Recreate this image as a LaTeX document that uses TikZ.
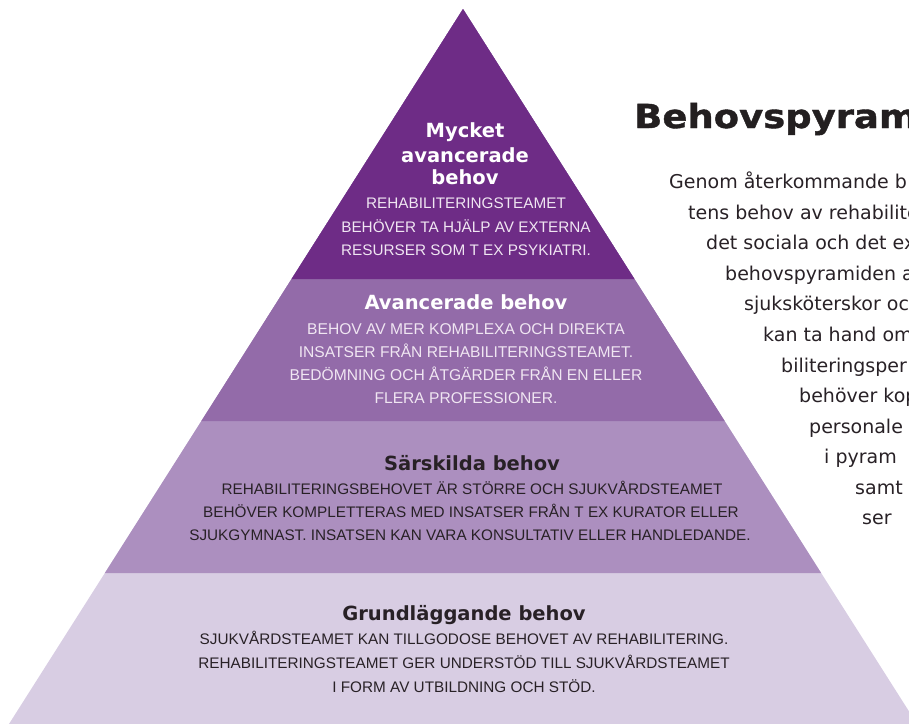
\documentclass[tikz,border=0pt]{standalone}
\usepackage{fontspec}
\setmainfont{Liberation Sans}
\newfontfamily\headfont{DejaVu Sans}
\newfontfamily\titlefont[FakeStretch=1.12,BoldFeatures={FakeBold=1.2}]{DejaVu Sans}
\definecolor{layA}{RGB}{110,44,134}
\definecolor{layB}{RGB}{147,107,169}
\definecolor{layC}{RGB}{172,143,191}
\definecolor{layD}{RGB}{216,205,227}
\definecolor{lighttxt}{RGB}{240,230,242}
\definecolor{darktxt}{RGB}{40,33,38}
\definecolor{titletxt}{RGB}{35,31,32}
\tikzset{
  lhead/.style={anchor=base, inner sep=0pt, font=\headfont\bfseries\fontsize{19.5}{24}\selectfont},
  lbody/.style={anchor=base, inner sep=0pt, font=\fontsize{15.3}{23}\selectfont},
  sidetxt/.style={anchor=base west, inner sep=0pt, font=\headfont\fontsize{19}{29}\selectfont, text=darktxt}
}
\begin{document}
\begin{tikzpicture}[x=1pt,y=-1pt]
\useasboundingbox (0,0) rectangle (909,723);
\clip (0,0) rectangle (909,723);
% pyramid layers (nested triangles, drawn bottom first)
\fill[layD] (463,9) -- (463+0.635*721,730) -- (463-0.635*721,730) -- cycle;
\fill[layC] (463,9) -- (463+0.635*564,573) -- (463-0.635*564,573) -- cycle;
\fill[layB] (463,9) -- (463+0.635*412,421) -- (463-0.635*412,421) -- cycle;
\fill[layA] (463,9) -- (463+0.635*270,279) -- (463-0.635*270,279) -- cycle;

% layer 1
\node[lhead, text=white] (h1a) at (465,137) {Mycket};
\node[lhead, text=white] (h1b) at (465,162) {avancerade};
\node[lhead, text=white] (h1c) at (465,184) {behov};
\node[lbody, text=lighttxt] (b1a) at (466,208) {REHABILITERINGSTEAMET};
\node[lbody, text=lighttxt] (b1b) at (466,232) {BEHÖVER TA HJÄLP AV EXTERNA};
\node[lbody, text=lighttxt] (b1c) at (466,255) {RESURSER SOM T EX PSYKIATRI.};

% layer 2
\node[lhead, text=white] (h2) at (466,309) {Avancerade behov};
\node[lbody, text=lighttxt, font=\fontsize{15.6}{23}\selectfont] (b2a) at (466,334) {BEHOV AV MER KOMPLEXA OCH DIREKTA};
\node[lbody, text=lighttxt, font=\fontsize{15.6}{23}\selectfont] (b2b) at (466,357) {INSATSER FRÅN REHABILITERINGSTEAMET.};
\node[lbody, text=lighttxt, font=\fontsize{15.6}{23}\selectfont] (b2c) at (466,380) {BEDÖMNING OCH ÅTGÄRDER FRÅN EN ELLER};
\node[lbody, text=lighttxt, font=\fontsize{15.6}{23}\selectfont] (b2d) at (466,403) {FLERA PROFESSIONER.};

% layer 3
\node[lhead, text=darktxt] (h3) at (472,470) {Särskilda behov};
\node[lbody, text=darktxt] (b3a) at (472,494) {REHABILITERINGSBEHOVET ÄR STÖRRE OCH SJUKVÅRDSTEAMET};
\node[lbody, text=darktxt] (b3b) at (471,517) {BEHÖVER KOMPLETTERAS MED INSATSER FRÅN T EX KURATOR ELLER};
\node[lbody, text=darktxt] (b3c) at (470,540) {SJUKGYMNAST. INSATSEN KAN VARA KONSULTATIV ELLER HANDLEDANDE.};

% layer 4
\node[lhead, text=darktxt] (h4) at (464,620) {Grundläggande behov};
\node[lbody, text=darktxt] (b4a) at (464,644) {SJUKVÅRDSTEAMET KAN TILLGODOSE BEHOVET AV REHABILITERING.};
\node[lbody, text=darktxt] (b4b) at (464,668) {REHABILITERINGSTEAMET GER UNDERSTÖD TILL SJUKVÅRDSTEAMET};
\node[lbody, text=darktxt] (b4c) at (464,692) {I FORM AV UTBILDNING OCH STÖD.};

% title and side text
\node[anchor=base west, inner sep=0pt, font=\titlefont\bfseries\fontsize{33}{36}\selectfont, text=titletxt] (title) at (634,128) {Behovspyram};
\node[sidetxt] (s1) at (669,188) {Genom återkommande b};
\node[sidetxt] (s2) at (688,219) {tens behov av rehabilite};
\node[sidetxt] (s3) at (706,249) {det sociala och det ex};
\node[sidetxt] (s4) at (725,280) {behovspyramiden a};
\node[sidetxt] (s5) at (744,310) {sjuksköterskor oc};
\node[sidetxt] (s6) at (763,341) {kan ta hand om};
\node[sidetxt] (s7) at (781,372) {biliteringsper};
\node[sidetxt] (s8) at (799,402) {behöver kop};
\node[sidetxt] (s9) at (809,433) {personale};
\node[sidetxt] (s10) at (824,463) {i pyram};
\node[sidetxt] (s11) at (855,494) {samt};
\node[sidetxt] (s12) at (862,524) {ser};
\end{tikzpicture}
\end{document}
